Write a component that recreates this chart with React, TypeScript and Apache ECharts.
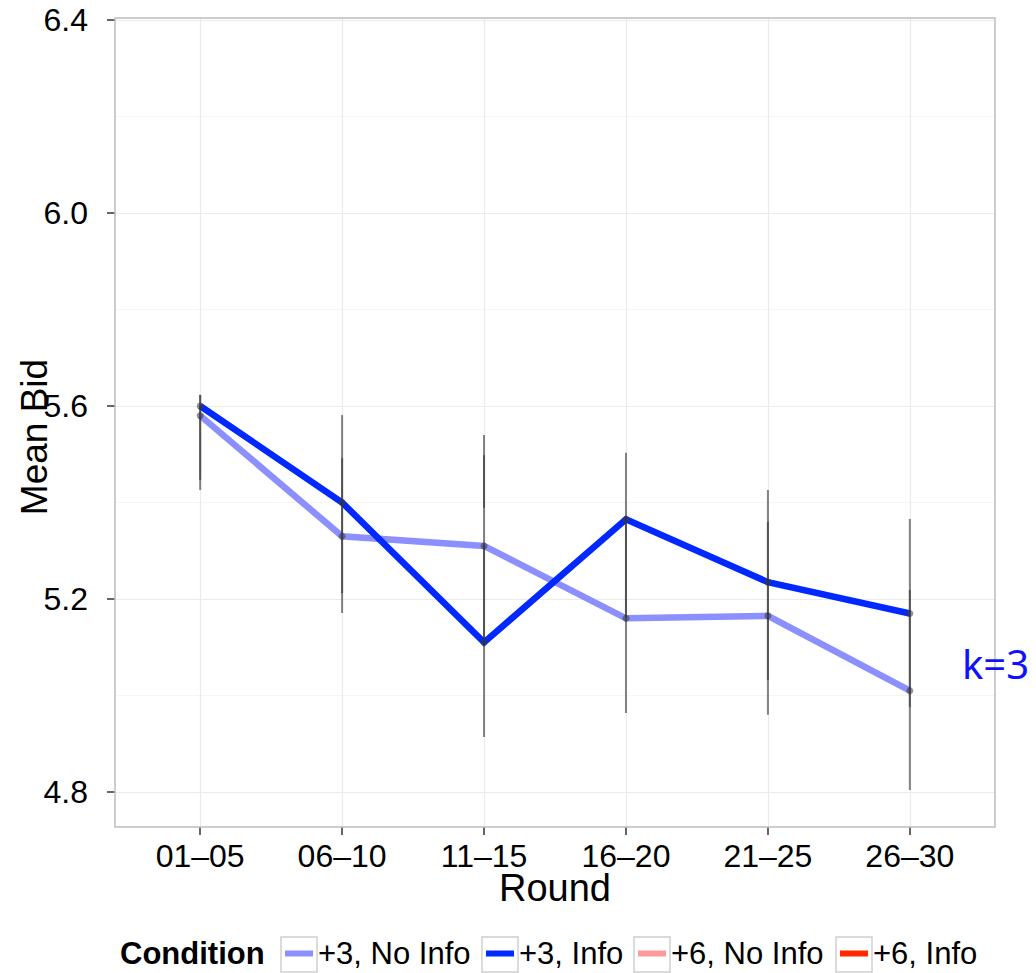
import React, { useEffect, useRef } from "react";
import * as echarts from "echarts";

const categories = ["01–05", "06–10", "11–15", "16–20", "21–25", "26–30"];
const noInfo3 = [5.58, 5.33, 5.31, 5.16, 5.165, 5.01];
const info3 = [5.6, 5.4, 5.11, 5.365, 5.235, 5.17];
const errOuterLow = [5.426, 5.171, 4.914, 4.964, 4.96, 4.804];
const errOuterHigh = [5.623, 5.581, 5.54, 5.503, 5.426, 5.366];
const errInnerLow = [5.447, 5.212, 5.389, 5.163, 5.032, 4.976];
const errInnerHigh = [5.623, 5.492, 5.498, 5.364, 5.36, 5.219];
const errExtraLow = [null, null, 5.109, null, null, null];
const errExtraHigh = [null, null, 5.312, null, null, null];
const yTicks = [4.8, 5.2, 5.6, 6.0, 6.4];
const yMinorTicks = [5.0, 5.4, 5.8, 6.2];
const legendNames = ["+3, No Info", "+3, Info", "+6, No Info", "+6, Info"];
const legendColors = ["#8c90ff", "#0028ff", "#ff9a9a", "#ff2a00"];

const FONT = "'Liberation Sans', Arial, Helvetica, sans-serif";

export default function App() {
  const ref = useRef<HTMLDivElement>(null);
  useEffect(() => {
    if (!ref.current) return;
    const chart = echarts.init(ref.current, null, { renderer: "svg" });

    const errData: number[][] = [];
    categories.forEach((_, i) => {
      errData.push([i, errOuterLow[i], errOuterHigh[i]]);
      errData.push([i, errInnerLow[i], errInnerHigh[i]]);
      if (errExtraLow[i] != null && errExtraHigh[i] != null) {
        errData.push([i, errExtraLow[i] as number, errExtraHigh[i] as number]);
      }
    });

    const gridLines: any[] = [
      ...yTicks.map((v) => ({ yAxis: v, lineStyle: { color: "#ebebeb", width: 1.2, type: "solid" } })),
      ...yMinorTicks.map((v) => ({ yAxis: v, lineStyle: { color: "#f5f5f5", width: 1, type: "solid" } })),
      ...categories.map((_, i) => ({ xAxis: i, lineStyle: { color: "#ebebeb", width: 1.2, type: "solid" } })),
    ];

    const legendLefts = [285, 486, 638, 840];
    const boxLefts = [281, 482, 634, 836];

    const option: any = {
      animation: false,
      backgroundColor: "#ffffff",
      grid: {
        left: 115,
        top: 18,
        width: 880,
        height: 809,
        containLabel: false,
        outerBoundsMode: "none",
      },
      xAxis: {
        type: "value",
        min: -0.6,
        max: 5.6,
        axisLine: { show: false, onZero: false },
        splitLine: { show: false },
        axisTick: {
          show: true,
          length: 8,
          lineStyle: { color: "#333333", width: 1.5 },
          customValues: [0, 1, 2, 3, 4, 5],
        },
        axisLabel: {
          show: true,
          customValues: [0, 1, 2, 3, 4, 5],
          margin: 13,
          fontSize: 32,
          color: "#000000",
          fontFamily: FONT,
          formatter: (v: number) => {
            const i = Math.round(v);
            return Math.abs(v - i) < 1e-6 && categories[i] ? categories[i] : "";
          },
        },
      },
      yAxis: {
        type: "value",
        min: 4.7275,
        max: 6.404,
        splitNumber: 8,
        axisLine: { show: false, onZero: false },
        splitLine: { show: false },
        axisTick: {
          show: true,
          length: 8,
          lineStyle: { color: "#333333", width: 1.5 },
          customValues: yTicks,
        },
        axisLabel: {
          show: true,
          customValues: yTicks,
          margin: 27,
          fontSize: 32,
          color: "#000000",
          fontFamily: FONT,
          formatter: (v: number) => {
            const ok = yTicks.some((t) => Math.abs(t - v) < 1e-6);
            return ok ? v.toFixed(1) : "";
          },
        },
      },
      legend: legendNames.map((n, i) => ({
        show: true,
        data: [n],
        left: legendLefts[i],
        top: 938,
        padding: 0,
        orient: "horizontal",
        icon: "rect",
        itemWidth: 28,
        itemHeight: 6,
        selectedMode: false,
        textStyle: { fontSize: 31, lineHeight: 30, color: "#000000", fontFamily: FONT },
      })),
      graphic: [
        {
          type: "rect",
          z: 10,
          silent: true,
          shape: { x: 115, y: 18, width: 880, height: 809 },
          style: { fill: "none", stroke: "#bdbdbd", lineWidth: 1.5 },
        },
        ...boxLefts.map((x) => ({
          type: "rect",
          z: 0,
          silent: true,
          shape: { x, y: 937, width: 36, height: 35 },
          style: { fill: "none", stroke: "#d0d0d0", lineWidth: 1.5 },
        })),
        {
          type: "text",
          x: 120,
          y: 953,
          style: {
            text: "Condition",
            fontSize: 31,
            fontWeight: "bold",
            fill: "#000000",
            fontFamily: FONT,
            verticalAlign: "middle",
            align: "left",
          },
        },
        {
          type: "text",
          x: 555,
          y: 888,
          style: {
            text: "Round",
            fontSize: 38,
            fill: "#000000",
            fontFamily: FONT,
            align: "center",
            verticalAlign: "middle",
          },
        },
        {
          type: "text",
          x: 34,
          y: 437,
          rotation: Math.PI / 2,
          style: {
            text: "Mean Bid",
            fontSize: 37,
            fill: "#000000",
            fontFamily: FONT,
            align: "center",
            verticalAlign: "middle",
          },
        },
        {
          type: "text",
          left: 962,
          top: 643,
          z: 20,
          style: {
            text: "k=3",
            fontSize: 40,
            fill: "#1010ff",
            fontFamily: "'Noto Sans', 'Open Sans', sans-serif",
          },
        },
      ],
      series: [
        {
          name: "+3, No Info",
          type: "line",
          z: 2,
          data: noInfo3.map((v, i) => [i, v]),
          showSymbol: false,
          symbol: "none",
          lineStyle: { color: legendColors[0], width: 6.5, cap: "butt", join: "miter" },
          itemStyle: { color: legendColors[0] },
          markLine: {
            silent: true,
            z: 0,
            symbol: ["none", "none"],
            label: { show: false },
            emphasis: { disabled: true },
            animation: false,
            data: gridLines,
          },
        },
        {
          name: "+3, Info",
          type: "line",
          z: 2,
          data: info3.map((v, i) => [i, v]),
          showSymbol: false,
          symbol: "none",
          lineStyle: { color: legendColors[1], width: 6.5, cap: "butt", join: "miter" },
          itemStyle: { color: legendColors[1] },
        },
        {
          name: "+6, No Info",
          type: "line",
          data: [],
          symbol: "none",
          lineStyle: { color: legendColors[2], width: 6.5 },
          itemStyle: { color: legendColors[2] },
        },
        {
          name: "+6, Info",
          type: "line",
          data: [],
          symbol: "none",
          lineStyle: { color: legendColors[3], width: 6.5 },
          itemStyle: { color: legendColors[3] },
        },
        {
          name: "points",
          type: "scatter",
          z: 3,
          silent: true,
          symbolSize: 7,
          itemStyle: { color: "rgba(60,60,60,0.7)" },
          data: [...noInfo3.map((v, i) => [i, v]), ...info3.map((v, i) => [i, v])],
        },
        {
          name: "errorbars",
          type: "custom",
          z: 4,
          silent: true,
          data: errData,
          encode: { x: 0, y: [1, 2] },
          renderItem: (params: any, api: any) => {
            const x = api.value(0);
            const p1 = api.coord([x, api.value(1)]);
            const p2 = api.coord([x, api.value(2)]);
            return {
              type: "line",
              shape: { x1: p1[0], y1: p1[1], x2: p2[0], y2: p2[1] },
              style: { stroke: "rgba(51,51,51,0.6)", lineWidth: 2 },
            };
          },
        },
      ],
    };

    chart.setOption(option);
    return () => chart.dispose();
  }, []);

  return (
    <div
      ref={ref}
      style={{ position: "fixed", left: 0, top: 0, width: 1036, height: 973, background: "#fff" }}
    />
  );
}
